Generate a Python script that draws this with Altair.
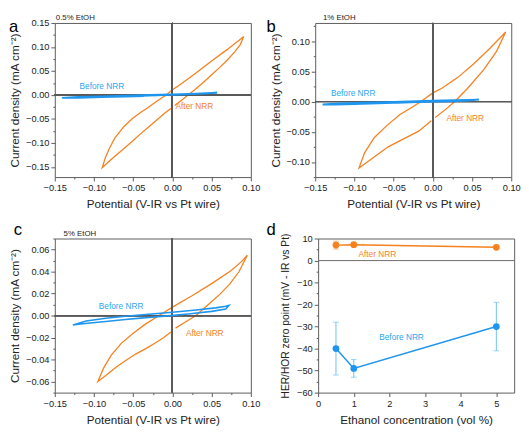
import altair as alt
import pandas as pd

FONT = "Liberation Sans"
ORANGE = "#F5811F"
BLUE = "#1E95EE"
BLUE_LBL = "#2AA7F0"
DARK = "#222222"
FRAME = "#5a5a5a"

# ---------------- data ----------------
# panel a (0.5% EtOH)
a_after_x = [0.003, 0.010, 0.020, 0.030, 0.040, 0.050, 0.060, 0.070, 0.080, 0.0865, 0.0909,
             0.085, 0.070, 0.050, 0.030, 0.010, 0.000, -0.008, -0.020, -0.032, -0.042, -0.051,
             -0.062, -0.0735, -0.080, -0.0855, -0.0895,
             -0.080, -0.070, -0.060, -0.050, -0.040, -0.030, -0.020, -0.010, -0.002]
a_after_y = [-0.022, -0.013, 0.000, 0.013, 0.027, 0.042, 0.057, 0.073, 0.091, 0.105, 0.122,
             0.114, 0.095, 0.071, 0.046, 0.022, 0.011, 0.000, -0.013, -0.027, -0.038, -0.049,
             -0.066, -0.090, -0.110, -0.130, -0.1515,
             -0.137, -0.123, -0.109, -0.095, -0.080, -0.066, -0.052, -0.038, -0.028]
a_before_x = [-0.036, -0.060, -0.090, -0.120, -0.141, -0.120, -0.090, -0.060, -0.030, 0.000,
              0.030, 0.057, 0.040, 0.010, -0.020, -0.041]
a_before_y = [-0.0022, -0.0033, -0.0045, -0.0056, -0.0060, -0.0043, -0.0030, -0.0015, -0.0002,
              0.0012, 0.0028, 0.0048, 0.0030, 0.0012, -0.0004, -0.0016]
a_lbl_x = [-0.090, 0.028]
a_lbl_y = [0.018, -0.024]

# panel b (1% EtOH)
b_after_x = [0.003, 0.0156, 0.028, 0.0444, 0.065, 0.0814, 0.0929,
             0.0732, 0.0526, 0.032, 0.0115, 0.000, -0.0152, -0.0255, -0.0419, -0.0584, -0.0748,
             -0.0872, -0.0942,
             -0.077, -0.057, -0.036, -0.018, -0.002]
b_after_y = [-0.0266, -0.0138, 0.000, 0.022, 0.0527, 0.0834, 0.1151,
             0.0885, 0.0629, 0.040, 0.022, 0.0143, 0.000, -0.0087, -0.0215, -0.0394, -0.0598,
             -0.0854, -0.110,
             -0.094, -0.075, -0.061, -0.049, -0.0317]
b_before_x = [-0.040, -0.070, -0.100, -0.125, -0.1406, -0.120, -0.090, -0.060, -0.030, 0.000,
              0.030, 0.0588, 0.040, 0.010, -0.020, -0.046]
b_before_y = [-0.0018, -0.0029, -0.0040, -0.0048, -0.0050, -0.0033, -0.0021, -0.0010, 0.0001,
              0.0012, 0.0023, 0.0032, 0.0012, 0.0000, -0.0010, -0.0020]
b_lbl_x = [-0.1015, 0.0413]
b_lbl_y = [0.0144, -0.0266]

# panel c (5% EtOH)
c_after_x = [0.004, 0.015, 0.030, 0.048, 0.060, 0.073, 0.085, 0.0955,
             0.088, 0.075, 0.050, 0.025, 0.000, -0.017, -0.035, -0.050, -0.065, -0.078, -0.088,
             -0.0951,
             -0.085, -0.072, -0.060, -0.047, -0.034, -0.022, -0.011, -0.002]
c_after_y = [-0.0114, -0.0066, 0.000, 0.0114, 0.019, 0.0286, 0.040, 0.0549,
             0.049, 0.041, 0.029, 0.018, 0.0077, 0.000, -0.008, -0.016, -0.025, -0.036, -0.048,
             -0.060,
             -0.0545, -0.047, -0.041, -0.035, -0.030, -0.025, -0.020, -0.015]
c_before_x = [-0.037, -0.060, -0.085, -0.105, -0.120, -0.127, -0.110, -0.085, -0.060, -0.030,
              0.000, 0.030, 0.055, 0.068, 0.072, 0.068, 0.050, 0.020, -0.010, -0.030, -0.042]
c_before_y = [-0.0021, -0.0036, -0.0054, -0.0068, -0.0078, -0.0085, -0.0050, -0.0025, -0.0007,
              0.0012, 0.0030, 0.0050, 0.0070, 0.0085, 0.0093, 0.0060, 0.0038, 0.0015, -0.0005,
              -0.0017, -0.0024]
c_lbl_x = [-0.0655, 0.0412]
c_lbl_y = [0.0086, -0.0158]

# panel d
conc = [0.5, 1, 5]
after_mean = [7.0, 7.2, 6.0]
after_err = [1.8, 0.5, 0.5]
before_mean = [-40.0, -49.0, -30.0]
before_err = [12.0, 4.0, 11.0]
d_lbl_x = [1.66, 2.34]
d_lbl_y = [3.0, -34.6]

labels = ["Before NRR", "After NRR"]


# ---------------- helpers ----------------
def make_axis(values, major, fmt, title, title_pad, title_size=12):
    k = round(1 / major, 6)
    test = f"abs(datum.value*{k:g} - round(datum.value*{k:g})) > 0.01"
    return alt.Axis(values=values, format=fmt, title=title, titlePadding=title_pad,
                    titleFontSize=title_size,
                    labelExpr=f"{test} ? '' : datum.label",
                    tickSize={"condition": {"test": test, "value": 2}, "value": 4},
                    grid=False, domain=False, labelPadding=2, labelOverlap=False,
                    labelSeparation=0, labelFlush=False)


def steps(lo, hi, step):
    n = int(round((hi - lo) / step))
    return [round(lo + i * step, 4) for i in range(n + 1)]


def decor(letter, lx, ly, sub, sx):
    let = alt.Chart(pd.DataFrame({"t": [letter]})).mark_text(
        align="left", baseline="middle", fontSize=17, font=FONT, color="black"
    ).encode(x=alt.value(lx), y=alt.value(ly), text="t:N")
    s = alt.Chart(pd.DataFrame({"t": [sub]})).mark_text(
        align="left", baseline="alphabetic", fontSize=8, font=FONT, color=DARK
    ).encode(x=alt.value(sx), y=alt.value(-3), text="t:N")
    return let, s


def cv_panel(ax, ay, bx, by, lx, ly, ydom, yvals, ymajor, letter, letter_x, letter_y,
             sub, sub_x, W, H, blue_w):
    xs = alt.Scale(domain=[-0.15, 0.10], nice=False, zero=False)
    ys = alt.Scale(domain=ydom, nice=False, zero=False)
    xaxis = make_axis(steps(-0.15, 0.10, 0.025), 0.05, ".2f",
                      "Potential (V-IR vs Pt wire)", 7)
    yaxis = make_axis(yvals, ymajor, ".2f", "Current density (mA cm\u207b\u00b2)", 4)
    X = alt.X("x:Q", scale=xs, axis=xaxis)
    Y = alt.Y("y:Q", scale=ys, axis=yaxis)

    df_a = pd.DataFrame({"x": ax, "y": ay, "o": list(range(len(ax)))})
    df_b = pd.DataFrame({"x": bx, "y": by, "o": list(range(len(bx)))})
    df_l = pd.DataFrame({"x": lx, "y": ly, "t": labels, "c": [BLUE_LBL, ORANGE]})

    base_pts = alt.Chart(df_a).mark_line(color=ORANGE, strokeWidth=1.3).encode(
        x=X, y=Y, order="o:Q")
    hz = alt.Chart(df_a).mark_rule(color=FRAME, strokeWidth=1).encode(
        y=alt.YDatum(0, scale=ys, axis=yaxis))
    vt = alt.Chart(df_a).mark_rule(color=FRAME, strokeWidth=1).encode(
        x=alt.XDatum(0, scale=xs, axis=xaxis))
    blue = alt.Chart(df_b).mark_line(color=BLUE, strokeWidth=blue_w).encode(
        x=X, y=Y, order="o:Q")
    txt = alt.Chart(df_l).mark_text(fontSize=8.5, font=FONT).encode(
        x=X, y=Y, text="t:N", color=alt.Color("c:N", scale=None))
    let, s = decor(letter, letter_x, letter_y, sub, sub_x)
    return alt.layer(base_pts, hz, vt, blue, txt, let, s).properties(width=W, height=H)


W = 201
H = 158

pa = cv_panel(a_after_x, a_after_y, a_before_x, a_before_y, a_lbl_x, a_lbl_y,
              [-0.171, 0.15], steps(-0.15, 0.15, 0.025), 0.05, "a", -47, 4,
              "0.5% EtOH", 1, W, H, 2.0)
pb = cv_panel(b_after_x, b_after_y, b_before_x, b_before_y, b_lbl_x, b_lbl_y,
              [-0.125, 0.13], steps(-0.125, 0.125, 0.025), 0.05, "b", -50, 4,
              "1% EtOH", 8, W, H, 2.0)
pc = cv_panel(c_after_x, c_after_y, c_before_x, c_before_y, c_lbl_x, c_lbl_y,
              [-0.07, 0.07], steps(-0.07, 0.07, 0.01), 0.02, "c", -42, -9,
              "5% EtOH", 9, W, H, 1.6)

# panel d
dxs = alt.Scale(domain=[0, 5.5], nice=False, zero=False)
dys = alt.Scale(domain=[-60, 10], nice=False, zero=False)
dxaxis = make_axis(steps(0, 5.5, 0.5), 1, "d", "Ethanol concentration (vol %)", 7)
dyaxis = make_axis(steps(-60, 10, 5), 10, "d", "HER/HOR zero point (mV - IR vs Pt)", 6,
                   title_size=10.5)
DX = alt.X("x:Q", scale=dxs, axis=dxaxis)
DY = alt.Y("y:Q", scale=dys, axis=dyaxis)

df_after = pd.DataFrame({"x": conc, "y": after_mean,
                         "lo": [m - e for m, e in zip(after_mean, after_err)],
                         "hi": [m + e for m, e in zip(after_mean, after_err)]})
df_before = pd.DataFrame({"x": conc, "y": before_mean,
                          "lo": [m - e for m, e in zip(before_mean, before_err)],
                          "hi": [m + e for m, e in zip(before_mean, before_err)]})
df_dl = pd.DataFrame({"x": d_lbl_x, "y": d_lbl_y, "t": ["After NRR", "Before NRR"],
                      "c": [ORANGE, BLUE_LBL]})


def series(df, color, errcolor):
    rule = alt.Chart(df).mark_rule(color=errcolor, strokeWidth=1).encode(
        x=DX, y=alt.Y("lo:Q", scale=dys, axis=dyaxis), y2="hi:Q")
    cap_lo = alt.Chart(df).mark_tick(color=errcolor, orient="horizontal", size=6,
                                     thickness=1).encode(
        x=DX, y=alt.Y("lo:Q", scale=dys, axis=dyaxis))
    cap_hi = alt.Chart(df).mark_tick(color=errcolor, orient="horizontal", size=6,
                                     thickness=1).encode(
        x=DX, y=alt.Y("hi:Q", scale=dys, axis=dyaxis))
    line = alt.Chart(df).mark_line(color=color, strokeWidth=1.5).encode(x=DX, y=DY)
    pts = alt.Chart(df).mark_point(color=color, filled=True, opacity=1, size=48).encode(
        x=DX, y=DY)
    return [rule, cap_lo, cap_hi, line, pts]


dzero = alt.Chart(df_after).mark_rule(color="#7a7a7a", strokeWidth=1).encode(
    y=alt.YDatum(0, scale=dys, axis=dyaxis))
dtxt = alt.Chart(df_dl).mark_text(fontSize=8.5, font=FONT).encode(
    x=DX, y=DY, text="t:N", color=alt.Color("c:N", scale=None))
dlet = alt.Chart(pd.DataFrame({"t": ["d"]})).mark_text(
    align="left", baseline="middle", fontSize=17, font=FONT, color="black"
).encode(x=alt.value(-53), y=alt.value(-9), text="t:N")

pd_ = alt.layer(dzero, *series(df_after, ORANGE, "#F7A768"),
                *series(df_before, BLUE, "#6CC3F5"), dtxt, dlet).properties(width=W, height=H)

row1 = alt.hconcat(pa, pb, spacing=5)
row2 = alt.hconcat(pc, pd_, spacing=5)
chart = alt.vconcat(row1, row2, spacing=10).properties(
    padding={"left": 0, "top": 0, "right": 0, "bottom": 0}
).configure_view(stroke=FRAME, strokeWidth=1).configure_axis(
    labelFont=FONT, titleFont=FONT, labelFontSize=9.5, titleFontSize=12,
    titleFontWeight="normal", labelColor=DARK, titleColor=DARK, tickColor=FRAME,
    labelOverlap=False
).configure_concat(spacing=10)

chart.save("out.html", embed_options={"renderer": "svg", "actions": False})
